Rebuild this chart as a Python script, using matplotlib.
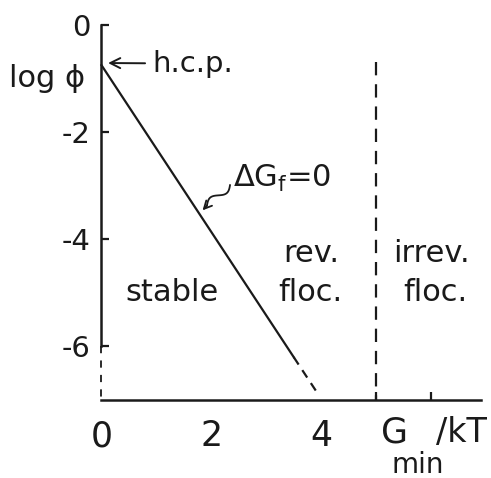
import matplotlib.pyplot as plt
import numpy as np

plt.rcParams["font.family"] = "DejaVu Sans"
plt.rcParams["axes.unicode_minus"] = False

# Stability boundary dG_f = 0 (solid part, then dashed extrapolation)
boundary_x = [0.0, 3.5]
boundary_y = [-0.75, -6.2]
extrap_x = [3.5, 3.95]
extrap_y = [-6.2, -6.9]

# Reversible / irreversible flocculation limit
irrev_x = 5.0
irrev_top = -0.7

y_ticks = [0, -2, -4, -6]
y_labels = ["0", "-2", "-4", "-6"]
x_ticks = [0, 2, 4]
x_labels = ["0", "2", "4"]
x_marks = [2, 4, 5, 6]

XMAX = 6.91
YMIN = -7.0

INK = "#1a1a1a"


def main():
    fig = plt.figure(figsize=(4.91, 4.78), dpi=100)
    ax = fig.add_axes([0.2067, 0.1632, 0.773, 0.7845])
    ax.set_xlim(0, XMAX)
    ax.set_ylim(YMIN, 0)

    for side in ("top", "right", "left"):
        ax.spines[side].set_visible(False)
    ax.spines["bottom"].set_linewidth(1.8)
    ax.spines["bottom"].set_color(INK)

    # y axis: solid down to -6, dashed below
    ax.plot([0, 0], [0, -6], color=INK, lw=1.8, clip_on=False)
    ax.plot([0, 0], [-6, YMIN], color=INK, lw=1.3, ls=(0, (4, 4)), clip_on=False)

    ax.set_yticks(y_ticks, y_labels)
    ax.tick_params(axis="y", direction="in", length=6, width=1.6, pad=8,
                   labelsize=21, color=INK, labelcolor=INK)
    ax.set_xticks(x_ticks, x_labels)
    ax.set_xticks(x_marks, minor=True)
    ax.tick_params(axis="x", which="major", length=0, pad=14,
                   labelsize=25, labelcolor=INK)
    ax.tick_params(axis="x", which="minor", direction="in", length=6,
                   width=1.6, color=INK)

    # boundary line
    ax.plot(boundary_x, boundary_y, color=INK, lw=1.6, clip_on=False)
    ax.plot(extrap_x, extrap_y, color=INK, lw=1.6, ls=(0, (4, 3)), clip_on=False)

    # vertical dashed limit
    ax.plot([irrev_x, irrev_x], [irrev_top, YMIN], color=INK, lw=1.6,
            ls=(0, (6, 4)), clip_on=False)

    # labels
    ax.annotate("h.c.p.", xy=(0.12, -0.71), xytext=(0.92, -0.72),
                ha="left", va="center", fontsize=21, color=INK,
                arrowprops=dict(arrowstyle="->", color=INK, lw=1.4,
                                shrinkA=3, shrinkB=0, mutation_scale=18))
    ax.text(-0.99, -0.99, "log ϕ", ha="center", va="center", fontsize=22,
            color=INK, clip_on=False)

    ax.text(2.40, -3.02, r"$\Delta\mathrm{G}_\mathrm{f}$=0",
            ha="left", va="baseline", fontsize=22, color=INK)

    # wavy leader to the boundary line
    start = np.array([2.34, -2.99])
    end = np.array([1.92, -3.37])
    t = np.linspace(0, 1, 60)
    d = end - start
    perp = np.array([-d[1], d[0]]) / np.hypot(*d)
    wave = start + np.outer(t, d) + np.outer(0.07 * np.sin(2 * np.pi * t), perp)
    ax.plot(wave[:, 0], wave[:, 1], color=INK, lw=1.3)
    ax.annotate("", xy=(1.84, -3.46), xytext=(end[0], end[1]),
                arrowprops=dict(arrowstyle="->", color=INK, lw=1.3,
                                shrinkA=0, shrinkB=0, mutation_scale=14))

    ax.text(1.29, -5.0, "stable", ha="center", va="center", fontsize=22, color=INK)
    ax.text(3.82, -4.26, "rev.", ha="center", va="center", fontsize=22, color=INK)
    ax.text(3.80, -5.0, "floc.", ha="center", va="center", fontsize=22, color=INK)
    ax.text(6.0, -4.26, "irrev.", ha="center", va="center", fontsize=22, color=INK)
    ax.text(6.07, -5.0, "floc.", ha="center", va="center", fontsize=22, color=INK)

    # x axis label G_min / kT
    ax.text(5.33, -7.6, "G", ha="center", va="center", fontsize=25,
            color=INK, clip_on=False)
    ax.text(5.75, -8.22, "min", ha="center", va="center", fontsize=20,
            color=INK, clip_on=False)
    ax.text(6.55, -7.6, "/kT", ha="center", va="center", fontsize=24,
            color=INK, clip_on=False)

    fig.savefig("out.png", dpi=100)


if __name__ == "__main__":
    main()
